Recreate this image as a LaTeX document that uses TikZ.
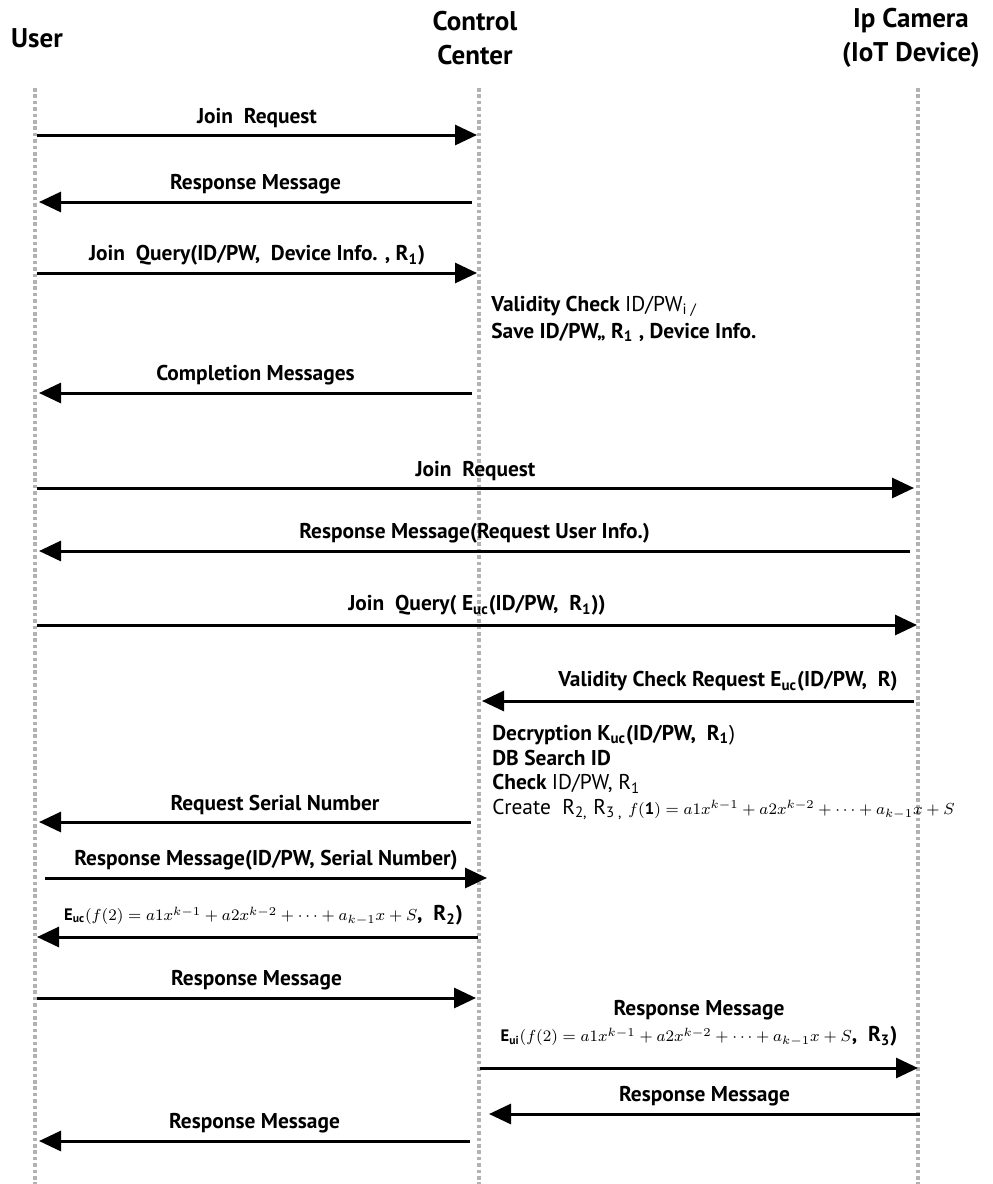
\documentclass[tikz,border=0pt]{standalone}
\usepackage{fontspec}
\setmainfont{PT Sans}
\usetikzlibrary{arrows.meta}

\newcommand{\polyf}[2]{{\fontsize{8.3}{11}\selectfont$#1f(#2)=a1x^{k-1}+a2x^{k-2}+\cdots+a_{k-1}x+S$}}

\begin{document}
\begin{tikzpicture}[
  x=0.5pt, y=-0.5pt,
  actor/.style={font=\bfseries\fontsize{13.5}{17}\selectfont, align=center, inner sep=0pt},
  lifeline/.style={draw=gray!60, line width=1.9pt, dash pattern=on 1.8pt off 1.4pt},
  msg/.style={line width=1.5pt, -{Triangle[length=11pt,width=10pt]}},
  lbl/.style={font=\bfseries\fontsize{10.7}{12}\selectfont, inner sep=0pt, align=center},
  note/.style={font=\bfseries\fontsize{10.7}{12.3}\selectfont, inner sep=0pt, anchor=north west, align=left}
]
\useasboundingbox (0,0) rectangle (992,1184);

% Actors
\node[actor] (user) at (37,38) {User};
\node[actor] (center) at (475,38) {Control\\Center};
\node[actor] (camera) at (911,38) {Ip Camera\\(IoT Device)};

% Lifelines
\coordinate (ut) at (35,88);  \coordinate (ub) at (35,1184);
\coordinate (ct) at (479,88); \coordinate (cb) at (479,1184);
\coordinate (it) at (918,88); \coordinate (ib) at (918,1184);
\draw[lifeline] (ut) -- (ub);
\draw[lifeline] (ct) -- (cb);
\draw[lifeline] (it) -- (ib);

% Registration with the control center
\coordinate (u1) at (37,135);  \coordinate (c1) at (477,135);
\draw[msg] (u1) -- node[lbl, above=3pt] {Join~ Request} (c1);

\coordinate (c2) at (472,202); \coordinate (u2) at (39,202);
\draw[msg] (c2) -- node[lbl, above=3pt] {Response Message} (u2);

\coordinate (u3) at (37,273);  \coordinate (c3) at (477,273);
\draw[msg] (u3) -- node[lbl, above=3pt] {Join~ Query(ID/PW,~ Device Info. , R\textsubscript{1})} (c3);

\node[note, font=\bfseries\fontsize{10.7}{13.5}\selectfont] (check1) at (491,296) {Validity Check {\mdseries ID/PW\textsubscript{i /}}\\Save ID/PW,, R\textsubscript{1} , Device Info.};

\coordinate (c4) at (472,393); \coordinate (u4) at (39,393);
\draw[msg] (c4) -- node[lbl, above=3pt] {Completion Messages} (u4);

% Joining the IP camera
\coordinate (u5) at (37,488);  \coordinate (i5) at (914,488);
\draw[msg] (u5) -- node[lbl, above=3pt] {Join~ Request} (i5);

\coordinate (i6) at (910,551); \coordinate (u6) at (39,551);
\draw[msg] (i6) -- node[lbl, above=3pt] {Response Message(Request User Info.)} (u6);

\coordinate (u7) at (37,625);  \coordinate (i7) at (917,625);
\draw[msg] (u7) -- node[lbl, above=4pt] {Join~ Query( E\textsubscript{uc}(ID/PW,~ R\textsubscript{1}))} (i7);

\coordinate (i8) at (914,701); \coordinate (c8) at (482,701);
\draw[msg] (i8) -- node[lbl, above=4pt, xshift=15pt] {Validity Check Request E\textsubscript{uc}(ID/PW,~ R)} (c8);

\node[note] (check2) at (492,725) {Decryption K\textsubscript{uc}(ID/PW,~ R\textsubscript{1}{\mdseries)}\\DB Search ID\\Check {\mdseries ID/PW, R\textsubscript{1}}\\{\mdseries Create~ R\textsubscript{2,} R\textsubscript{3 ,} \polyf{}{\mathbf{1}}}};

\coordinate (c9) at (471,822); \coordinate (u9) at (39,822);
\draw[msg] (c9) -- node[lbl, above=3pt, xshift=10pt] {Request Serial Number} (u9);

\coordinate (u10) at (45,878); \coordinate (c10) at (487,878);
\draw[msg] (u10) -- node[lbl, above=3pt] {Response Message(ID/PW, Serial Number)} (c10);

\coordinate (c11) at (478,937); \coordinate (u11) at (37,937);
\draw[msg] (c11) -- node[lbl, above=5pt, xshift=3pt] {\polyf{\mathbf{E}_{\mathbf{uc}}(}{2},~ R\textsubscript{2})} (u11);

% Final responses
\coordinate (u12) at (37,998); \coordinate (c12) at (476,998);
\draw[msg] (u12) -- node[lbl, above=3pt] {Response Message} (c12);

\coordinate (c13) at (480,1068); \coordinate (i13) at (918,1068);
\draw[msg] (c13) -- node[lbl, above=10pt] {Response Message\\[1pt]\polyf{\mathbf{E}_{\mathbf{ui}}(}{2},~ R\textsubscript{3})} (i13);

\coordinate (i14) at (920,1114); \coordinate (c14) at (489,1114);
\draw[msg] (i14) -- node[lbl, above=3pt] {Response Message} (c14);

\coordinate (c15) at (470,1141); \coordinate (u15) at (39,1141);
\draw[msg] (c15) -- node[lbl, above=3pt] {Response Message} (u15);
\end{tikzpicture}
\end{document}
